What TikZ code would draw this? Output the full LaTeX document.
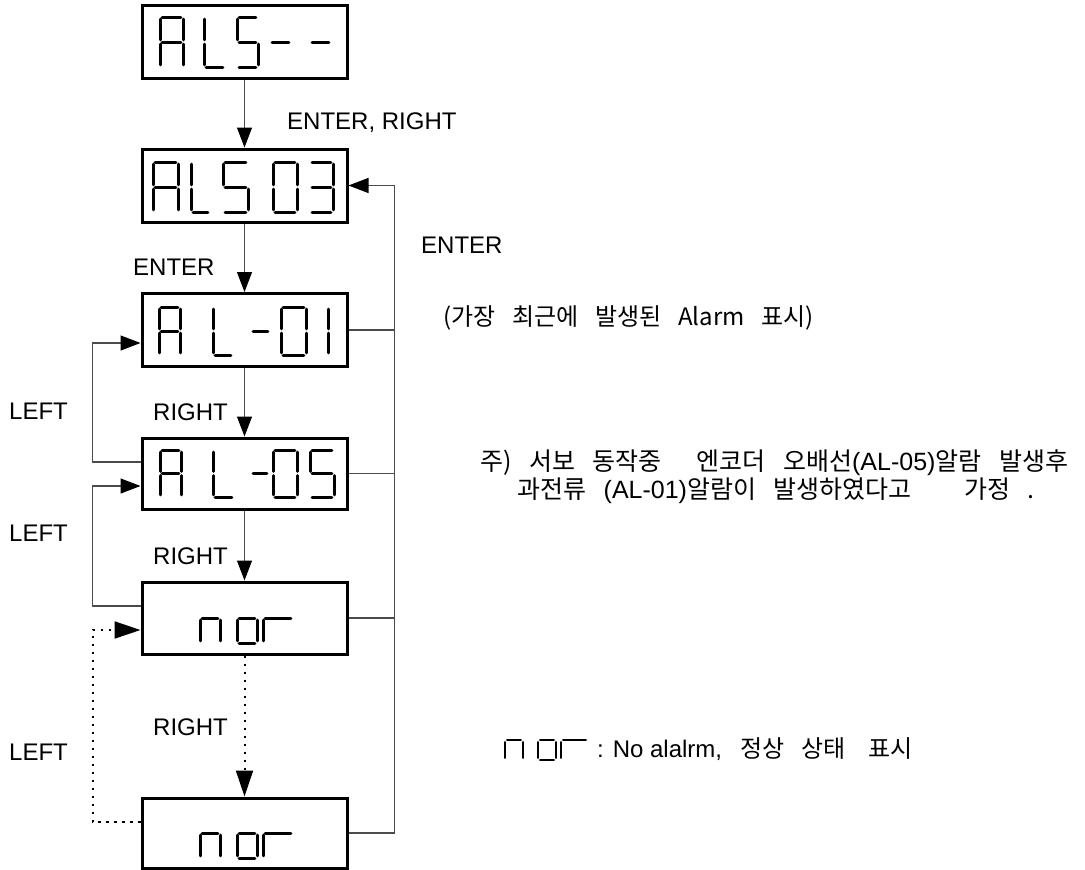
\documentclass[tikz,border=0pt]{standalone}
\usepackage{fontspec}
\setmainfont{Liberation Sans}
\newfontfamily\kr{Noto Sans CJK KR}
\usetikzlibrary{arrows.meta,calc}

\tikzset{
  disp/.style={draw, line width=3pt, minimum width=205pt, minimum height=73pt, inner sep=0pt},
  seg/.style={line width=3pt, line cap=round},
  conn/.style={draw=black!70, line width=1.1pt},
  dotconn/.style={draw=black, line width=2pt, dash pattern=on 2.2pt off 5.8pt},
  tipA/.style={-{Triangle[length=20pt,width=15pt,color=black]}},
  tipB/.style={-{Triangle[length=26pt,width=17pt,color=black]}},
  lbl/.style={font=\fontsize{24}{28}\selectfont, inner sep=0pt, anchor=base west},
  krl/.style={font=\kr\fontsize{24}{28}\selectfont, inner sep=0pt, anchor=base west},
  krp/.style={font=\kr\fontsize{25}{30}\selectfont, inner sep=0pt, anchor=base west},
}

\def\gp{2.2}
\newcommand\myseda{\draw[seg] (\gp,0)--(\dw-\gp,0);}
\newcommand\mysedb{\draw[seg] (\dw,\gp)--(\dw,\dm-\gp);}
\newcommand\mysedc{\draw[seg] (\dw,\dm+\gp)--(\dw,\dh-\gp);}
\newcommand\mysedd{\draw[seg] (\gp,\dh)--(\dw-\gp,\dh);}
\newcommand\mysede{\draw[seg] (0,\dm+\gp)--(0,\dh-\gp);}
\newcommand\mysedf{\draw[seg] (0,\gp)--(0,\dm-\gp);}
\newcommand\mysedg{\draw[seg] (\gp,\dm)--(\dw-\gp,\dm);}
\newcommand\sevdig[5]{%
  \begin{scope}[shift={(#1,#2)}]
    \def\dw{#3}\def\dh{#4}\pgfmathsetmacro\dm{#4/2}%
    \foreach \s in {#5}{\csname mysed\s\endcsname}%
  \end{scope}}
\newcommand\wsp{\hspace{0.7em}}

\begin{document}
\begin{tikzpicture}[x=1pt,y=-1pt]
\useasboundingbox (0,0) rectangle (1085,870);

% display boxes
\node[disp] (b1) at (244.5,41.5) {};
\node[disp] (b2) at (244.5,185.5) {};
\node[disp] (b3) at (244.5,330) {};
\node[disp, minimum height=71pt] (b4) at (244.5,473.5) {};
\node[disp, minimum height=72pt] (b5) at (244.5,618) {};
\node[disp, minimum height=70pt] (b6) at (244.5,833) {};

% box 1: ALS--
\sevdig{160}{17}{23}{50}{a,b,c,e,f,g}
\sevdig{204}{17}{21}{50}{d,e,f}
\sevdig{237}{17}{21}{50}{a,f,g,c,d}
\sevdig{270}{17}{21}{50}{g}
\sevdig{310}{17}{21}{50}{g}
% box 2: ALS 03
\sevdig{153}{162}{25}{50}{a,b,c,e,f,g}
\sevdig{191}{162}{19}{50}{d,e,f}
\sevdig{223}{162}{25}{50}{a,f,g,c,d}
\sevdig{273}{162}{24}{50}{a,b,c,d,e,f}
\sevdig{310}{162}{23}{50}{a,b,g,c,d}
% box 3: AL-01
\sevdig{159}{307}{21}{48}{a,b,c,e,f,g}
\sevdig{213}{307}{20}{48}{d,e,f}
\sevdig{251}{307}{19}{48}{g}
\sevdig{281}{307}{25}{48}{a,b,c,d,e,f}
\sevdig{308}{307}{20}{48}{b,c}
% box 4: AL-05
\sevdig{160}{450}{21}{47}{a,b,c,e,f,g}
\sevdig{213}{450}{21}{47}{d,e,f}
\sevdig{251}{450}{18}{47}{g}
\sevdig{273}{450}{24}{47}{a,b,c,d,e,f}
\sevdig{310}{450}{24}{47}{a,f,g,c,d}
% box 5: nor
\sevdig{200}{593}{20}{50}{c,e,g}
\sevdig{237}{593}{20}{50}{c,d,e,g}
\sevdig{263}{593}{30}{50}{e,g}
% box 6: nor
\sevdig{200}{808}{20}{50}{c,e,g}
\sevdig{237}{808}{20}{50}{c,d,e,g}
\sevdig{263}{808}{30}{50}{e,g}

% main vertical arrows
\draw[conn,tipA] (b1) -- (b2);
\draw[conn,tipA] (b2) -- (b3);
\draw[conn,tipA] (b3) -- (b4);
\draw[conn,tipA] (b4) -- (b5);
\draw[dotconn,tipB] (b5) -- (b6);

% right return loop (ENTER)
\draw[conn] (b3.east) -- ++(46,0);
\draw[conn] (b4.east) -- ++(46,0);
\draw[conn] (b5.east) -- ++(46,0);
\draw[conn,tipA] (b6.east) -| ([xshift=46pt]b2.east) -- (b2.east);

% left loops (LEFT)
\draw[conn,tipA] ([yshift=11.5pt]b4.west) -| ([xshift=-48pt,yshift=-13pt]b3.west) -- ([yshift=-13pt]b3.west);
\draw[conn,tipA] ([yshift=12pt]b5.west) -| ([xshift=-48pt,yshift=-12.5pt]b4.west) -- ([yshift=-12.5pt]b4.west);
\draw[dotconn,tipB] ([yshift=11pt]b6.west) -| ([xshift=-48pt,yshift=-12pt]b5.west) -- ([yshift=-12pt]b5.west);

% labels
\node[lbl] (t1) at (287,129) {ENTER, RIGHT};
\node[lbl] (t2) at (421,253) {ENTER};
\node[lbl] (t3) at (133,275) {ENTER};
\node[lbl] (t4) at (153,420) {RIGHT};
\node[lbl] (t5) at (153,564) {RIGHT};
\node[lbl] (t6) at (153,735) {RIGHT};
\node[lbl] (t7) at (9,419) {LEFT};
\node[lbl] (t8) at (9,541) {LEFT};
\node[lbl] (t9) at (9,760) {LEFT};

% notes
\node[krl] (n1) at (443,325) {(가장\wsp 최근에\wsp 발생된\wsp Alarm\wsp 표시)};
\node[krp] (n2) at (480,470) {주)\wsp 서보\wsp 동작중\wsp\wsp 엔코더\wsp 오배선{\normalfont(AL-05)}알람\wsp 발생후};
\node[krp] (n3) at (517,498) {과전류\wsp{\normalfont(AL-01)}알람이\wsp 발생하였다고\wsp\wsp\wsp 가정\wsp .};

% legend
\begin{scope}[seg/.append style={line width=2.6pt}]
\sevdig{505}{720}{18}{40}{c,e,g}
\sevdig{538}{720}{18}{40}{c,d,e,g}
\sevdig{561}{720}{27}{40}{e,g}
\end{scope}
\node[lbl] (lg) at (597,757) {: No alalrm,\hspace{0.75em}{\kr 정상\hspace{0.7em}상태\hspace{0.95em}표시}};
\end{tikzpicture}
\end{document}
